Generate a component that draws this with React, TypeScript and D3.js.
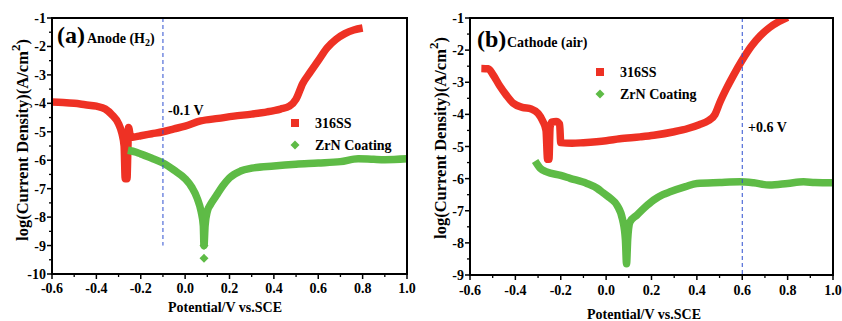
import React from "react";
import * as d3 from "d3";

// ---------- data ----------
const X_TICKS = [-0.6, -0.4, -0.2, 0.0, 0.2, 0.4, 0.6, 0.8, 1.0];
const X_TICK_LABELS = ["-0.6", "-0.4", "-0.2", "0.0", "0.2", "0.4", "0.6", "0.8", "1.0"];
const Y_TICKS_A = [-1, -2, -3, -4, -5, -6, -7, -8, -9, -10];
const Y_TICK_LABELS_A = ["-1", "-2", "-3", "-4", "-5", "-6", "-7", "-8", "-9", "-10"];
const Y_TICKS_B = [-1, -2, -3, -4, -5, -6, -7, -8, -9];
const Y_TICK_LABELS_B = ["-1", "-2", "-3", "-4", "-5", "-6", "-7", "-8", "-9"];

const SERIES_NAMES = ["316SS", "ZrN Coating"];

// Panel (a) Anode (H2)
const A_316SS: [number, number][] = [
  [-0.6, -3.95], [-0.55, -3.97], [-0.5, -4.0], [-0.45, -4.05], [-0.4, -4.1], [-0.36, -4.2],
  [-0.33, -4.4], [-0.3, -4.72], [-0.285, -5.05], [-0.275, -5.5], [-0.27, -6.65], [-0.262, -6.65],
  [-0.258, -5.6], [-0.255, -4.85], [-0.245, -5.2], [-0.22, -5.17], [-0.2, -5.14], [-0.15, -5.07],
  [-0.1, -5.0], [-0.05, -4.9], [0.0, -4.8], [0.07, -4.62], [0.15, -4.53], [0.22, -4.45],
  [0.3, -4.38], [0.37, -4.3], [0.43, -4.2], [0.47, -4.1], [0.5, -3.85], [0.53, -3.3],
  [0.56, -2.95], [0.6, -2.5], [0.64, -2.05], [0.68, -1.75], [0.72, -1.55], [0.76, -1.42], [0.8, -1.35],
];
const A_ZRN: [number, number][] = [
  [-0.258, -5.65], [-0.22, -5.72], [-0.2, -5.78], [-0.15, -5.93], [-0.1, -6.1], [-0.05, -6.35],
  [0.0, -6.65], [0.03, -6.95], [0.055, -7.35], [0.072, -7.8], [0.082, -8.3], [0.085, -9.0],
  [0.09, -8.3], [0.1, -7.8], [0.115, -7.55], [0.14, -7.25], [0.17, -6.9], [0.2, -6.62],
  [0.25, -6.38], [0.3, -6.28], [0.4, -6.2], [0.5, -6.14], [0.6, -6.1], [0.7, -6.05],
  [0.78, -5.95], [0.85, -5.97], [0.9, -5.98], [1.0, -5.95],
];
const A_ZRN_OUTLIERS: [number, number][] = [[0.085, -9.0], [0.085, -9.45]];

// Panel (b) Cathode (air)
const B_316SS: [number, number][] = [
  [-0.55, -2.57], [-0.52, -2.58], [-0.5, -2.75], [-0.47, -3.1], [-0.44, -3.4], [-0.41, -3.65],
  [-0.37, -3.78], [-0.33, -3.83], [-0.3, -3.97], [-0.28, -4.2], [-0.265, -4.5], [-0.258, -5.4],
  [-0.252, -5.4], [-0.247, -4.4], [-0.24, -4.24], [-0.22, -4.22], [-0.205, -4.3], [-0.2, -4.88],
  [-0.15, -4.9], [-0.1, -4.88], [0.0, -4.82], [0.06, -4.76], [0.15, -4.7], [0.21, -4.65],
  [0.3, -4.54], [0.36, -4.44], [0.41, -4.32], [0.45, -4.2], [0.48, -4.0], [0.5, -3.65],
  [0.53, -3.2], [0.56, -2.8], [0.6, -2.31], [0.64, -1.88], [0.68, -1.55], [0.72, -1.3],
  [0.76, -1.12], [0.8, -0.98],
];
const B_ZRN: [number, number][] = [
  [-0.313, -5.45], [-0.29, -5.68], [-0.262, -5.79], [-0.2, -5.9], [-0.159, -5.99], [-0.085, -6.15],
  [-0.04, -6.3], [-0.012, -6.45], [0.02, -6.62], [0.048, -6.83], [0.073, -7.29], [0.085, -7.9],
  [0.09, -8.65], [0.095, -7.9], [0.105, -7.35], [0.135, -7.14], [0.17, -6.9], [0.209, -6.67],
  [0.25, -6.5], [0.282, -6.41], [0.35, -6.25], [0.4, -6.15], [0.5, -6.12], [0.59, -6.1],
  [0.65, -6.13], [0.72, -6.2], [0.8, -6.15], [0.87, -6.1], [0.92, -6.12], [1.0, -6.13],
];
const B_ZRN_OUTLIERS: [number, number][] = [];

const RED = "#ee3124";
const GREEN = "#5ebb46";
const BLUE = "#2e4fd0";
const FONT = "'Liberation Serif', 'Times New Roman', serif";

const diamondPath = (r: number) => `M0,${-r}L${r},0L0,${r}L${-r},0Z`;

type PanelProps = {
  id: string;
  left: number; right: number; top: number; bottom: number;
  yDomain: [number, number];
  yTicks: number[]; yTickLabels: string[];
  red: [number, number][]; green: [number, number][]; outliers: [number, number][];
  letter: string; title: React.ReactNode; letterPos: [number, number];
  vline: number; vlineEnd: number; vlineLabel: string; vlabelPos: [number, number];
  legendPos: [number, number];
  yLabelX: number; yLabelY: number; xLabelY: number; xLabelX: number; tickDy: number;
};

function Panel(p: PanelProps) {
  const x = d3.scaleLinear().domain([-0.6, 1.0]).range([p.left, p.right]);
  const y = d3.scaleLinear().domain(p.yDomain).range([p.top, p.bottom]);
  const line = d3
    .line<[number, number]>()
    .x((d) => x(d[0]))
    .y((d) => y(d[1]))
    .curve(d3.curveMonotoneX);
  const minorX = d3.range(-0.5, 1.0, 0.2).map((v) => +v.toFixed(2));
  const minorY = p.yTicks.slice(0, -1).map((v) => v - 0.5);
  const [lx, ly] = p.legendPos;
  return (
    <g fontFamily={FONT} fontWeight="bold">
      <defs>
        <clipPath id={`clip-${p.id}`}>
          <rect x={p.left - 6} y={p.top} width={p.right - p.left + 12} height={p.bottom - p.top + 6} />
        </clipPath>
      </defs>
      <g clipPath={`url(#clip-${p.id})`}>
        <path d={line(p.red) || ""} fill="none" stroke={RED} strokeWidth={7.5} strokeLinejoin="round" />
        <path d={line(p.green) || ""} fill="none" stroke={GREEN} strokeWidth={7.5} strokeLinejoin="round" />
        {p.outliers.map((d, i) => (
          <path key={i} d={diamondPath(4.5)} transform={`translate(${x(d[0])},${y(d[1])})`} fill={GREEN} />
        ))}
      </g>
      {/* dashed reference line */}
      <line x1={x(p.vline)} x2={x(p.vline)} y1={p.top} y2={y(p.vlineEnd)} stroke={BLUE} strokeWidth={1} strokeDasharray="4,3" />
      <text x={p.vlabelPos[0]} y={p.vlabelPos[1]} fontSize={14} fill="#000">{p.vlineLabel}</text>
      {/* frame */}
      <rect x={p.left} y={p.top} width={p.right - p.left} height={p.bottom - p.top} fill="none" stroke="#000" strokeWidth={2} />
      {/* x ticks */}
      {X_TICKS.map((t, i) => (
        <g key={t}>
          <line x1={x(t)} x2={x(t)} y1={p.bottom} y2={p.bottom + 5} stroke="#000" strokeWidth={1.5} />
          <text x={x(t)} y={p.bottom + p.tickDy} fontSize={14} textAnchor="middle">{X_TICK_LABELS[i]}</text>
        </g>
      ))}
      {minorX.map((t) => (
        <line key={t} x1={x(t)} x2={x(t)} y1={p.bottom} y2={p.bottom + 3} stroke="#000" strokeWidth={1.3} />
      ))}
      {/* y ticks */}
      {p.yTicks.map((t, i) => (
        <g key={t}>
          <line x1={p.left - 5} x2={p.left} y1={y(t)} y2={y(t)} stroke="#000" strokeWidth={1.5} />
          <text x={p.left - 6} y={y(t) + 5} fontSize={14} textAnchor="end">{p.yTickLabels[i]}</text>
        </g>
      ))}
      {minorY.map((t) => (
        <line key={t} x1={p.left - 3} x2={p.left} y1={y(t)} y2={y(t)} stroke="#000" strokeWidth={1.3} />
      ))}
      {/* axis titles */}
      <text x={p.xLabelX} y={p.xLabelY} fontSize={14} textAnchor="middle">Potential/V vs.SCE</text>
      <text transform={`translate(${p.yLabelX},${p.yLabelY}) rotate(-90)`} fontSize={16.5} textAnchor="middle">
        log(Current Density)(A/cm<tspan dy={-8} fontSize={13}>2</tspan><tspan dy={8}>)</tspan>
      </text>
      {/* panel letter */}
      <text x={p.letterPos[0]} y={p.letterPos[1]} fontSize={24}>{p.letter}</text>
      <text x={p.letterPos[0] + 30} y={p.letterPos[1]} fontSize={14}>{p.title}</text>
      {/* legend */}
      <rect x={lx - 4} y={ly - 4} width={8} height={8} fill={RED} />
      <text x={lx + 20} y={ly + 5} fontSize={14}>{SERIES_NAMES[0]}</text>
      <path d={diamondPath(4.5)} transform={`translate(${lx},${ly + 22})`} fill={GREEN} />
      <text x={lx + 20} y={ly + 27} fontSize={14}>{SERIES_NAMES[1]}</text>
    </g>
  );
}

export default function App() {
  return (
    <svg width={842} height={321} style={{ position: "absolute", left: 0, top: 0, background: "#fff" }}>
      <rect width={842} height={321} fill="#fff" />
      <Panel
        id="a" left={52} right={407} top={18} bottom={274}
        yDomain={[-1, -10]} yTicks={Y_TICKS_A} yTickLabels={Y_TICK_LABELS_A}
        red={A_316SS} green={A_ZRN} outliers={A_ZRN_OUTLIERS}
        letter="(a)" title={<>Anode (H<tspan dy={3} fontSize={10}>2</tspan><tspan dy={-3}>)</tspan></>}
        letterPos={[57, 43]}
        vline={-0.1} vlineEnd={-9} vlineLabel="-0.1 V" vlabelPos={[168, 115]}
        legendPos={[295, 123]}
        yLabelX={28} yLabelY={140} xLabelY={312} xLabelX={225} tickDy={19}
      />
      <Panel
        id="b" left={470} right={833} top={18} bottom={275}
        yDomain={[-1, -9]} yTicks={Y_TICKS_B} yTickLabels={Y_TICK_LABELS_B}
        red={B_316SS} green={B_ZRN} outliers={B_ZRN_OUTLIERS}
        letter="(b)" title="Cathode (air)"
        letterPos={[477, 47]}
        vline={0.6} vlineEnd={-9} vlineLabel="+0.6 V" vlabelPos={[748, 132]}
        legendPos={[600, 72]}
        yLabelX={446} yLabelY={138} xLabelY={319} xLabelX={644} tickDy={20}
      />
    </svg>
  );
}
